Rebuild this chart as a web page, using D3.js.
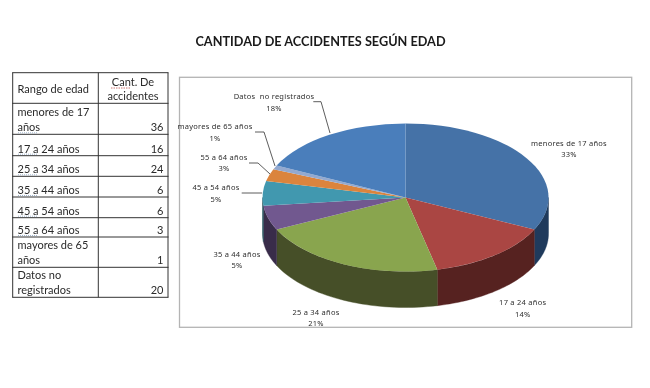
<!DOCTYPE html>
<html>
<head>
<meta charset="utf-8">
<script src="https://cdn.jsdelivr.net/npm/d3@7"></script>
<style>
  html, body { margin: 0; padding: 0; background: #fff; }
  svg { display: block; filter: blur(0.3px); }
</style>
</head>
<body>
<svg id="chart"></svg>
<script>
const titleText = "CANTIDAD DE ACCIDENTES SEGÚN EDAD";
const categories = ["menores de 17 años", "17 a 24 años", "25 a 34 años", "35 a 44 años",
  "45 a 54 años", "55 a 64 años", "mayores de 65 años", "Datos no registrados"];
const counts = [36, 16, 24, 6, 6, 3, 1, 20];
const percents = ["33%", "14%", "21%", "5%", "5%", "3%", "1%", "18%"];
const headers = [["Rango de edad"], ["Cant. De", "accidentes"]];
const rowLabels = [["menores de 17", "años"], ["17 a 24 años"], ["25 a 34 años"], ["35 a 44 años"],
  ["45 a 54 años"], ["55 a 64 años"], ["mayores de 65", "años"], ["Datos no", "registrados"]];
const topColors = ["#4572a7", "#aa4643", "#89a54e", "#71588f", "#4198af", "#db843d", "#93a9cf", "#4a7ebb"];
const sideColors = ["#1f3a5c", "#562220", "#464f28", "#392c4a", "#20505c", "#6f421e", "#4a566a", "#25406a"];

let width = 650, height = 388;
let svg = d3.select("#chart").attr("width", width).attr("height", height);

svg.append("text")
  .text(titleText)
  .attr("x", 320.5).attr("y", 45.5)
  .attr("text-anchor", "middle")
  .attr("font-family", "Lato")
  .attr("font-weight", 700)
  .attr("font-size", 12.7)
  .attr("fill", "#1a1a1a");

// table on the left
let tableX = [12.7, 98.3, 168];
let rowY = [72.7, 103.3, 134.3, 155.7, 176.3, 197, 217.7, 237, 267.3, 297.3];
let table = svg.append("g")
  .attr("font-family", "Lato")
  .attr("font-size", 11)
  .attr("fill", "#2a2a2a");
rowY.forEach(y => {
  table.append("line").attr("x1", tableX[0] - 0.5).attr("x2", tableX[2] + 0.5)
    .attr("y1", y).attr("y2", y).attr("stroke", "#333").attr("stroke-width", 1);
});
tableX.forEach(x => {
  table.append("line").attr("x1", x).attr("x2", x)
    .attr("y1", rowY[0]).attr("y2", rowY[rowY.length - 1]).attr("stroke", "#333").attr("stroke-width", 1);
});
table.append("text").text(headers[0][0]).attr("x", 17.5).attr("y", 92.5);
headers[1].forEach((t, i) => {
  table.append("text").text(t).attr("x", 133).attr("y", 85.5 + i * 14.5).attr("text-anchor", "middle");
});
rowLabels.forEach((lines, i) => {
  let bottom = rowY[i + 2];
  lines.forEach((t, j) => {
    table.append("text").text(t).attr("x", 17.5)
      .attr("y", bottom - 3 - (lines.length - 1 - j) * 15.2);
  });
  table.append("text").text(counts[i]).attr("x", 163.5).attr("y", bottom - 3).attr("text-anchor", "end");
});
// spell check marks from the word processor
table.append("line").attr("x1", 111).attr("x2", 130).attr("y1", 88).attr("y2", 88)
  .attr("stroke", "#c0504d").attr("stroke-width", 0.8).attr("stroke-dasharray", "1.5 1");
[2, 3, 4, 5, 6, 7].forEach(i => {
  table.append("line").attr("x1", 18).attr("x2", 37).attr("y1", rowY[i] - 1.5).attr("y2", rowY[i] - 1.5)
    .attr("stroke", "#8aa4c4").attr("stroke-width", 0.8).attr("stroke-dasharray", "1 1");
});

// chart frame
svg.append("rect")
  .attr("x", 179.5).attr("y", 77.3)
  .attr("width", 452.2).attr("height", 250)
  .attr("fill", "#fff")
  .attr("stroke", "#b4b4b4")
  .attr("stroke-width", 1.3);

// 3d pie
let cx = 405.5, cy = 197.5, rx = 143, ry = 74, depth = 36;
let slices = d3.pie().sort(null).value(d => d)(counts);
let px = a => cx + rx * Math.sin(a);
let py = a => cy - ry * Math.cos(a);
let pathLine = d3.line();

let pie3d = svg.append("g");
slices.forEach((s, i) => {
  let a0 = Math.max(s.startAngle, Math.PI / 2);
  let a1 = Math.min(s.endAngle, 3 * Math.PI / 2);
  if (a1 <= a0) return;
  let edge = d3.range(0, 41).map(k => a0 + (a1 - a0) * k / 40);
  let pts = edge.map(a => [px(a), py(a)])
    .concat(edge.slice().reverse().map(a => [px(a), py(a) + depth]));
  pie3d.append("path")
    .attr("d", pathLine(pts) + "Z")
    .attr("fill", sideColors[i])
    .attr("stroke", sideColors[i])
    .attr("stroke-width", 0.4);
});

let arc = d3.arc().innerRadius(0).outerRadius(rx);
pie3d.append("g")
  .attr("transform", `translate(${cx},${cy}) scale(1,${ry / rx})`)
  .selectAll("path")
  .data(slices)
  .join("path")
  .attr("d", arc)
  .attr("fill", (d, i) => topColors[i]);

// data labels, placed by hand as in the picture
let labelPos = [[569, 145.5], [522.7, 305], [316, 314.5], [237, 256.5], [216, 190], [224, 159.5], [215, 129], [274, 99]];
let labels = svg.append("g")
  .attr("font-family", "Noto Sans")
  .attr("font-size", 7.5)
  .attr("letter-spacing", 0.25)
  .attr("fill", "#2e2e2e")
  .attr("text-anchor", "middle");
categories.forEach((c, i) => {
  // the chart's own label keeps a wider gap for this one
  let name = i === 7 ? "Datos  no registrados" : c;
  labels.append("text").text(name).attr("xml:space", "preserve")
    .attr("x", labelPos[i][0]).attr("y", labelPos[i][1]);
  labels.append("text").text(percents[i])
    .attr("x", labelPos[i][0]).attr("y", labelPos[i][1] + 11.8);
});

// leader lines
let leaders = [
  [[241.7, 193], [262, 193]],
  [[249, 163], [258, 163], [270, 174]],
  [[255, 132], [264, 132], [275, 166]],
  [[313.3, 101.7], [321, 101.7], [330, 133]]
];
svg.append("g").selectAll("path")
  .data(leaders)
  .join("path")
  .attr("d", d => pathLine(d))
  .attr("fill", "none")
  .attr("stroke", "#333")
  .attr("stroke-width", 0.8);
</script>
</body>
</html>
